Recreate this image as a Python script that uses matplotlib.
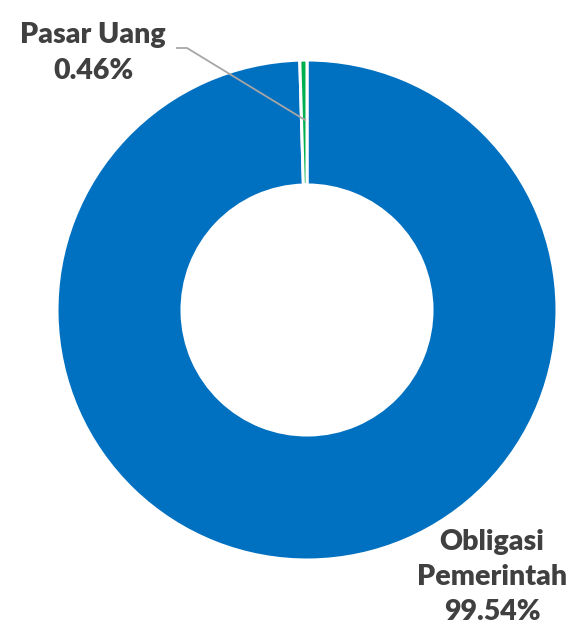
import matplotlib
matplotlib.use("Agg")
import matplotlib.pyplot as plt

categories = ["Obligasi Pemerintah", "Pasar Uang"]
values = [99.54, 0.46]
colors = ["#0070C0", "#00B050"]

W, H = 570, 624
fig = plt.figure(figsize=(W / 100, H / 100), dpi=100)
ax = fig.add_axes([0, 0, 1, 1])

ax.pie(values, colors=colors, startangle=90, counterclock=False,
       center=(307, 314), radius=250,
       wedgeprops=dict(width=125, edgecolor="white", linewidth=2.2))
ax.set_xlim(0, W)
ax.set_ylim(0, H)
ax.axis("off")

txt = dict(fontsize=20.5, fontweight="heavy", color="#404040",
           family=["Lato", "DejaVu Sans"], ha="center", va="center",
           linespacing=1.45)

# leader line for the small slice
ax.plot([177, 187, 305], [H - 48, H - 48, H - 120], color="#A6A6A6", lw=1.3)

ax.text(93, H - 53, f"{categories[1]}\n{values[1]:.2f}%", **txt)
ax.text(492, H - 577, "Obligasi\nPemerintah\n" + f"{values[0]:.2f}%", **txt)

fig.savefig("out.png", dpi=100)
